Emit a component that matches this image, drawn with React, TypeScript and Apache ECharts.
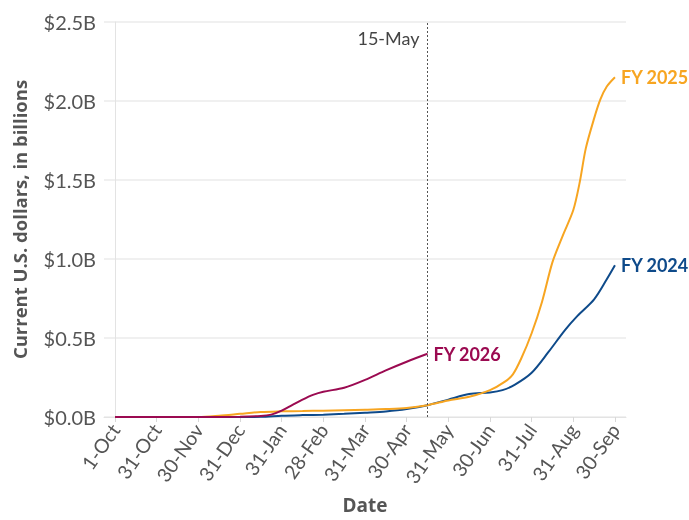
import React, { useEffect, useRef } from "react";
import * as echarts from "echarts";

const tickLabels = ["1-Oct", "31-Oct", "30-Nov", "31-Dec", "31-Jan", "28-Feb", "31-Mar", "30-Apr", "31-May", "30-Jun", "31-Jul", "31-Aug", "30-Sep"];
const tickPositions = [0, 1, 2, 3, 4, 5, 6, 7, 8, 9, 10, 11, 12];

const fy2024X = [0, 1, 2, 3, 3.5, 4, 4.5, 5, 5.5, 6, 6.5, 7, 7.5, 8, 8.5, 9, 9.3, 9.6, 10, 10.4, 10.8, 11.1, 11.5, 11.8, 12];
const fy2024Y = [0, 0, 0, 0, 0.001, 0.008, 0.012, 0.015, 0.02, 0.027, 0.035, 0.05, 0.075, 0.11, 0.145, 0.155, 0.17, 0.205, 0.28, 0.41, 0.55, 0.64, 0.745, 0.87, 0.96];

const fy2025X = [0, 1, 2, 2.5, 3, 3.5, 4, 4.5, 5, 5.5, 6, 6.5, 7, 7.5, 8, 8.5, 9, 9.35, 9.55, 9.75, 10, 10.25, 10.5, 10.75, 11, 11.15, 11.3, 11.5, 11.65, 11.8, 12];
const fy2025Y = [0, 0, 0, 0.008, 0.02, 0.032, 0.036, 0.038, 0.04, 0.043, 0.046, 0.05, 0.057, 0.075, 0.105, 0.128, 0.17, 0.222, 0.27, 0.37, 0.53, 0.73, 0.98, 1.15, 1.31, 1.48, 1.7, 1.89, 2.01, 2.09, 2.15];

const fy2026X = [0, 1, 2, 3, 3.5, 3.75, 4, 4.25, 4.5, 4.75, 5, 5.5, 6, 6.5, 7, 7.5];
const fy2026Y = [0, 0, 0, 0.002, 0.006, 0.015, 0.04, 0.075, 0.11, 0.14, 0.16, 0.185, 0.235, 0.295, 0.35, 0.4];

const markerX = 7.5;
const markerLabel = "15-May";

const FONT = "Lato, 'Open Sans', sans-serif";
const TITLE_FONT = "'Open Sans', Lato, sans-serif";
const TEXT = "#555555";

const zip = (xs: number[], ys: number[]) => xs.map((x, i) => [x, ys[i]]);

export default function App() {
  const ref = useRef<HTMLDivElement>(null);
  useEffect(() => {
    if (!ref.current) return;
    const chart = echarts.init(ref.current, null, { renderer: "svg" });
    const mk = (name: string, color: string, xs: number[], ys: number[], extra: any = {}) => ({
      name,
      type: "line",
      data: zip(xs, ys),
      smooth: 0.3,
      showSymbol: false,
      symbol: "none",
      lineStyle: { color, width: 2 },
      itemStyle: { color },
      endLabel: {
        show: true,
        formatter: name,
        color,
        fontFamily: FONT,
        fontWeight: "bold",
        fontSize: 18,
        distance: 6,
      },
      ...extra,
    });
    chart.setOption({
      animation: false,
      textStyle: { fontFamily: FONT },
      grid: { left: 104, right: 63, top: 22, bottom: 103, containLabel: false, outerBoundsMode: "none" },
      xAxis: {
        type: "value",
        min: -0.265,
        max: 12.265,
        name: "Date",
        nameLocation: "middle",
        nameGap: 78,
        nameTextStyle: { color: TEXT, fontSize: 19, fontWeight: "bold", fontFamily: TITLE_FONT },
        axisLine: { show: true, lineStyle: { color: "#e3e3e3", width: 1 } },
        axisTick: { show: true, customValues: tickPositions, length: 5, lineStyle: { color: "#d8d8d8" } },
        axisLabel: {
          customValues: tickPositions,
          formatter: (v: number) => tickLabels[Math.round(v)] ?? "",
          rotate: 55,
          fontSize: 19.5,
          color: TEXT,
          fontFamily: FONT,
          margin: 9,
        },
        splitLine: { show: false },
      },
      yAxis: {
        type: "value",
        min: 0,
        max: 2.5,
        interval: 0.5,
        name: "Current U.S. dollars, in billions",
        nameLocation: "middle",
        nameGap: 75,
        nameTextStyle: { color: TEXT, fontSize: 18.5, fontWeight: "bold", fontFamily: TITLE_FONT },
        axisLine: { show: true, lineStyle: { color: "#e3e3e3" } },
        axisTick: { show: false },
        axisLabel: {
          formatter: (v: number) => `$${v.toFixed(1)}B`,
          fontSize: 20,
          color: TEXT,
          fontFamily: FONT,
          margin: 8,
        },
        splitLine: { show: true, lineStyle: { color: "#ebebeb", width: 1.5 } },
      },
      series: [
        mk("FY 2024", "#0e4a8a", fy2024X, fy2024Y, {
          markLine: {
            silent: true,
            symbol: ["none", "none"],
            label: { show: false },
            lineStyle: { type: [2, 2], color: "#555", width: 1 },
            data: [{ xAxis: markerX }],
          },
        }),
        mk("FY 2025", "#f7a521", fy2025X, fy2025Y),
        mk("FY 2026", "#9b0a51", fy2026X, fy2026Y),
      ],
    });
    const p = chart.convertToPixel({ xAxisIndex: 0, yAxisIndex: 0 }, [markerX, 2.5]) as number[];
    chart.setOption({
      graphic: [
        {
          type: "text",
          x: p[0] - 8,
          y: p[1] + 7,
          style: { text: markerLabel, fill: "#444", fontSize: 18, fontFamily: FONT, textAlign: "right", textVerticalAlign: "top" },
        },
      ],
    });
    return () => chart.dispose();
  }, []);
  return <div ref={ref} style={{ position: "fixed", left: 0, top: 0, width: 689, height: 520 }} />;
}
